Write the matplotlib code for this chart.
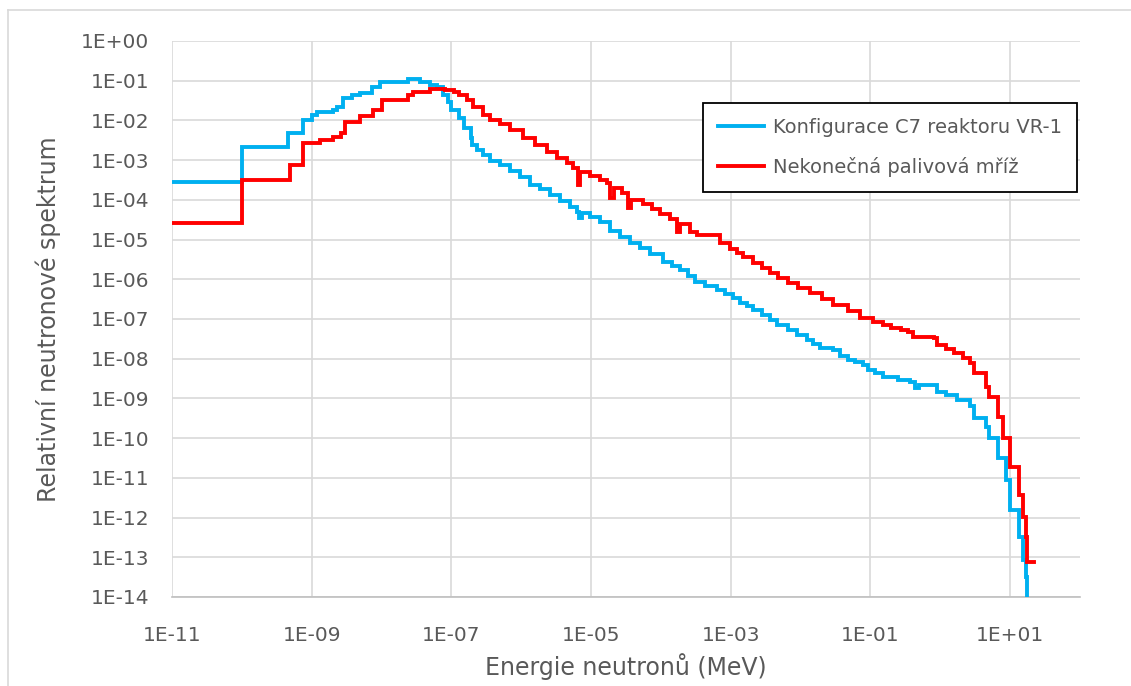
import matplotlib
matplotlib.use("Agg")
import matplotlib.pyplot as plt
from matplotlib.lines import Line2D
from matplotlib.ticker import FixedLocator, NullLocator

# ---- data (step spectra: energy [MeV] where each step starts, value of the step) ----
blue_name = "Konfigurace C7 reaktoru VR-1"
blue_E = [1e-11, 1e-10, 4.6e-10, 7.6e-10, 1.0e-9, 1.2e-9, 2.0e-9, 2.3e-9, 2.8e-9,
          3.8e-9, 4.9e-9, 7.4e-9, 9.6e-9, 2.4e-8, 3.5e-8, 5.0e-8, 6.3e-8, 7.6e-8,
          8.9e-8, 1.0e-7, 1.3e-7, 1.5e-7, 1.9e-7, 2.0e-7, 2.34e-7, 2.86e-7, 3.6e-7,
          5.0e-7, 6.95e-7, 9.7e-7, 1.35e-6, 1.87e-6, 2.6e-6, 3.6e-6, 5.0e-6, 6.3e-6,
          6.8e-6, 7.5e-6, 9.75e-6, 1.35e-5, 1.88e-5, 2.6e-5, 3.65e-5, 5.1e-5, 7.05e-5,
          1.08e-4, 1.46e-4, 1.9e-4, 2.47e-4, 3.1e-4, 4.3e-4, 6.4e-4, 8.4e-4, 1.09e-3,
          1.37e-3, 1.73e-3, 2.1e-3, 2.84e-3, 3.7e-3, 4.66e-3, 6.5e-3, 9.0e-3, 1.25e-2,
          1.52e-2, 1.92e-2, 2.95e-2, 3.7e-2, 4.7e-2, 6.1e-2, 7.9e-2, 9.1e-2, 0.118,
          0.153, 0.244, 0.374, 0.44, 0.49, 0.91, 1.19, 1.76, 2.7, 3.0, 4.45, 4.9,
          6.6, 8.6, 10.1, 13.2, 15.1, 16.6, 17.7, 19.0]
blue_v = [2.8e-4, 2.1e-3, 4.8e-3, 1.0e-2, 1.4e-2, 1.6e-2, 1.8e-2, 2.2e-2, 3.7e-2,
          4.4e-2, 4.9e-2, 6.9e-2, 9.3e-2, 0.11, 9.3e-2, 7.8e-2, 6.9e-2, 4.4e-2,
          2.9e-2, 1.8e-2, 1.15e-2, 6.5e-3, 3.6e-3, 2.4e-3, 1.8e-3, 1.34e-3, 9.5e-4,
          7.5e-4, 5.3e-4, 3.75e-4, 2.36e-4, 1.87e-4, 1.32e-4, 9.3e-5, 6.6e-5, 4.9e-5,
          3.5e-5, 4.65e-5, 3.7e-5, 2.76e-5, 1.64e-5, 1.16e-5, 8.2e-6, 6.1e-6, 4.3e-6,
          2.7e-6, 2.15e-6, 1.7e-6, 1.2e-6, 8.5e-7, 6.7e-7, 5.35e-7, 4.24e-7, 3.36e-7,
          2.5e-7, 2.1e-7, 1.67e-7, 1.25e-7, 9.4e-8, 7.0e-8, 5.25e-8, 3.9e-8, 2.94e-8,
          2.33e-8, 1.85e-8, 1.65e-8, 1.16e-8, 9.2e-9, 8.2e-9, 6.9e-9, 5.2e-9, 4.3e-9,
          3.4e-9, 2.9e-9, 2.6e-9, 1.8e-9, 2.16e-9, 1.44e-9, 1.21e-9, 9.1e-10, 6.4e-10,
          3.2e-10, 1.9e-10, 1.0e-10, 3.1e-11, 8.7e-12, 1.55e-12, 3.2e-13, 8.5e-14,
          3.2e-14, 1e-15, 1e-15]

red_name = "Nekonečná palivová mříž"
red_E = [1e-11, 1e-10, 4.9e-10, 7.6e-10, 1.3e-9, 2.0e-9, 2.6e-9, 3.0e-9, 4.9e-9,
         7.6e-9, 1.0e-8, 2.4e-8, 2.8e-8, 5.0e-8, 8.1e-8, 1.1e-7, 1.3e-7, 1.68e-7,
         2.05e-7, 2.86e-7, 3.6e-7, 5.0e-7, 6.95e-7, 1.07e-6, 1.59e-6, 2.36e-6, 3.3e-6,
         4.56e-6, 5.6e-6, 6.56e-6, 7.0e-6, 9.75e-6, 1.35e-5, 1.7e-5, 1.88e-5, 2.15e-5,
         2.8e-5, 3.4e-5, 3.77e-5, 5.6e-5, 7.5e-5, 9.8e-5, 1.36e-4, 1.72e-4, 1.9e-4,
         2.64e-4, 3.3e-4, 7.1e-4, 9.9e-4, 1.24e-3, 1.52e-3, 2.1e-3, 2.84e-3, 3.7e-3,
         4.8e-3, 6.5e-3, 9.3e-3, 1.38e-2, 2.05e-2, 2.95e-2, 4.7e-2, 7.2e-2, 0.110,
         0.149, 0.194, 0.27, 0.34, 0.41, 0.80, 0.91, 1.19, 1.55, 2.08, 2.7, 3.0,
         4.45, 4.9, 6.6, 8.0, 10.1, 13.2, 15.1, 16.6, 17.7, 21.6]
red_v = [2.6e-5, 3.2e-4, 7.6e-4, 2.7e-3, 3.2e-3, 3.8e-3, 4.8e-3, 9.1e-3, 1.3e-2,
         1.8e-2, 3.2e-2, 4.4e-2, 5.2e-2, 6.2e-2, 5.9e-2, 5.2e-2, 4.4e-2, 3.27e-2,
         2.18e-2, 1.37e-2, 1.02e-2, 8.1e-3, 5.7e-3, 3.6e-3, 2.4e-3, 1.6e-3, 1.13e-3,
         8.5e-4, 6.3e-4, 2.36e-4, 5.0e-4, 4.0e-4, 3.15e-4, 2.65e-4, 1.11e-4, 1.98e-4,
         1.48e-4, 6.2e-5, 9.9e-5, 7.8e-5, 5.9e-5, 4.4e-5, 3.3e-5, 1.55e-5, 2.45e-5,
         1.55e-5, 1.3e-5, 8.2e-6, 5.8e-6, 4.6e-6, 3.6e-6, 2.56e-6, 1.9e-6, 1.43e-6,
         1.07e-6, 8.0e-7, 6.0e-7, 4.5e-7, 3.2e-7, 2.24e-7, 1.58e-7, 1.05e-7, 8.4e-8,
         7.0e-8, 5.9e-8, 5.25e-8, 4.7e-8, 3.5e-8, 3.3e-8, 2.2e-8, 1.75e-8, 1.38e-8,
         1.04e-8, 7.7e-9, 4.3e-9, 1.9e-9, 1.08e-9, 3.4e-10, 1.0e-10, 1.86e-11,
         3.7e-12, 1.02e-12, 3.2e-13, 7.6e-14, 7.6e-14]

x_ticks = [1e-11, 1e-9, 1e-7, 1e-5, 1e-3, 1e-1, 1e1]
x_tick_labels = ["1E-11", "1E-09", "1E-07", "1E-05", "1E-03", "1E-01", "1E+01"]
y_ticks = [10.0 ** (-k) for k in range(0, 15)]
y_tick_labels = ["1E+00"] + ["1E-%02d" % k for k in range(1, 15)]
x_label = "Energie neutronů (MeV)"
y_label = "Relativní neutronové spektrum"

# ---- style ----
BLUE = "#00B0F0"
RED = "#FF0000"
TXT = "#595959"
GRID = "#D9D9D9"
plt.rcParams["font.family"] = ["DejaVu Sans"]

fig = plt.figure(figsize=(11.31, 6.86), dpi=100)
W, H = 1131, 686
ax = fig.add_axes([172 / W, 1 - 597 / H, (1080 - 172) / W, (597 - 41) / H])

ax.plot(blue_E, blue_v, drawstyle="steps-post", color=BLUE, lw=2.8,
        label=blue_name, solid_joinstyle="miter", zorder=3)
ax.plot(red_E, red_v, drawstyle="steps-post", color=RED, lw=2.8,
        label=red_name, solid_joinstyle="miter", zorder=4)

ax.set_xscale("log")
ax.set_yscale("log")
ax.set_xlim(1e-11, 1e2)
ax.set_ylim(1e-14, 1.0)

ax.xaxis.set_major_locator(FixedLocator(x_ticks))
ax.xaxis.set_minor_locator(NullLocator())
ax.set_xticklabels(x_tick_labels)
ax.yaxis.set_major_locator(FixedLocator(y_ticks))
ax.yaxis.set_minor_locator(NullLocator())
ax.set_yticklabels(y_tick_labels)

ax.tick_params(axis="both", length=0, labelsize=14.5, colors=TXT)
ax.tick_params(axis="x", pad=21)
ax.tick_params(axis="y", pad=16.5)
ax.grid(True, which="major", color=GRID, lw=1.2)
ax.set_axisbelow(True)
for s in ["top", "right", "left"]:
    ax.spines[s].set_visible(False)
ax.spines["bottom"].set_color("#BFBFBF")
ax.spines["bottom"].set_linewidth(1.2)

ax.set_xlabel(x_label, fontsize=17, color=TXT, labelpad=6)
ax.set_ylabel(y_label, fontsize=17, color=TXT, labelpad=14)

leg = ax.legend(loc="upper left", bbox_to_anchor=((703 - 172) / 908, 1 - (103 - 41) / 556),
                frameon=True, fancybox=False, fontsize=14, labelcolor=TXT,
                handlelength=2.4, handletextpad=0.45, borderpad=0.75,
                labelspacing=1.05, borderaxespad=0)
leg.get_frame().set_edgecolor("black")
leg.get_frame().set_linewidth(1.3)
leg.get_frame().set_facecolor("white")
leg.get_frame().set_alpha(1)

# chart-area border (light gray) at top and left
fig.add_artist(Line2D([8 / W, 8 / W], [0, 1 - 10 / H], transform=fig.transFigure,
                      color="#D9D9D9", lw=1.2))
fig.add_artist(Line2D([8 / W, 1], [1 - 10 / H, 1 - 10 / H], transform=fig.transFigure,
                      color="#D9D9D9", lw=1.2))

fig.savefig("out.png", dpi=100)
